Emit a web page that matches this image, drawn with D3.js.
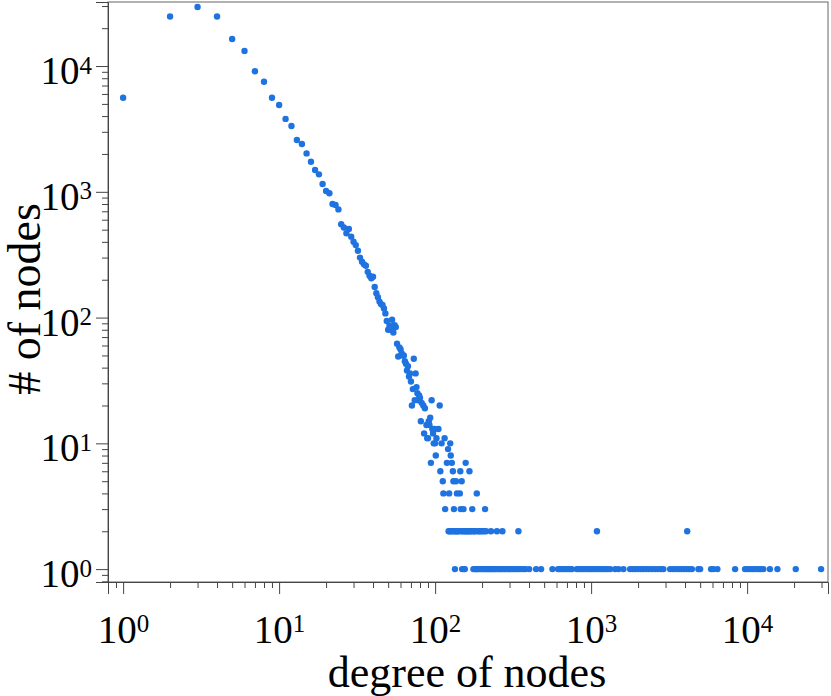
<!DOCTYPE html>
<html>
<head>
<meta charset="utf-8">
<script src="https://cdn.jsdelivr.net/npm/d3@7"></script>
<style>
  body { margin: 0; background: #fff; }
  svg { display: block; }
</style>
</head>
<body>
<svg id="chart"></svg>
<script>
// degree distribution, values
// head of the distribution: every degree 1..115 that shows up
var headDegree = [1,2,3,4,5,6,7,8,9,10,11,12,13,14,15,16,17,18,19,20,
  21,22,23,24,25,26,27,28,29,30,31,32,33,34,35,36,37,38,39,40,
  41,42,43,44,45,46,47,48,49,50,51,52,53,54,55,56,57,58,59,60,
  61,62,63,64,65,66,67,68,69,70,71,72,73,74,75,76,77,78,79,80,
  81,82,84,85,86,88,89,90,91,92,93,95,96,97,98,99,100,102,105,107,110,115];
var headCount = [5600,24800,29500,24800,16400,13200,9100,7500,5600,4900,3800,3340,2580,2400,2020,1734,1490,1377,1154,1014,
  973,800,785,725,553,521,468,506,440,401,377,340,300,278,265,258,231,215,205,211,
  175,156,145,134,128,126,118,108,94,80,86,80,96,76,87,84,62,49,58,56,
  52,50,50,45,43,38,41,34,36,31,20,27,47,22,36,28,25,22,24,23,
  15,21,20,12,19,14,11,11,15,14,16,22,13,12,10,13,10,11,13,20,10,11];

// mid range, small counts
var midDegree = [94,101,108,112,113,116,119,121,123,125,126,128,130,131,132,136,138,144,145,146,148,152,157,166,173,185,209];
var midCount  = [7,8,6,5,4,3,7,9,4,10,8,7,6,5,3,5,4,4,6,3,5,3,7,6,3,4,3];

// degrees with exactly two nodes
var twoDegree = [122,124,127,129,133,135,137,140,142,147,150,154,156,159,162,164,168,170,175,178,181,188,192,196,201,206,212,228,249,270,342,1090,4130];

// degrees with a single node
var oneDegree = [134,149,153,155,176,180,183,186,190,194,198,203,207,211,215,219,223,226,231,236,240,245,252,258,263,268,275,282,289,296,304,312,320,330,338,348,358,369,380,
  401,444,478,565,614,630,650,668,690,712,735,752,810,835,862,890,920,950,980,1010,1045,1080,1115,1150,1190,1230,1275,1324,1425,1497,1611,
  1778,1850,1920,2000,2080,2160,2250,2340,2450,2560,2680,2800,2906,3210,3350,3500,3650,3800,3950,4100,4250,4425,4870,5000,5875,6080,6450,8375,
  9700,10100,10500,10900,11300,11800,12200,12700,14000,15640,20500,29800];

var majorTicks = [1, 10, 100, 1000, 10000];
var tickExponents = ["0", "1", "2", "3", "4"];
var xTitle = "degree of nodes";
var yTitle = "# of nodes";

var points = [];
headDegree.forEach(function(d, i) { points.push({k: d, n: headCount[i]}); });
midDegree.forEach(function(d, i) { points.push({k: d, n: midCount[i]}); });
twoDegree.forEach(function(d) { points.push({k: d, n: 2}); });
oneDegree.forEach(function(d) { points.push({k: d, n: 1}); });

var W = 831, H = 696;
var margin = {top: 2, right: 3, bottom: 114, left: 108};
var width = W - margin.left - margin.right,
    height = H - margin.top - margin.bottom;

var svg = d3.select("#chart").attr("width", W).attr("height", H);
var plot = svg.append("g").attr("transform", "translate(" + margin.left + "," + margin.top + ")");

var x = d3.scaleLog().domain([0.8, 33000]).range([0, width]);
var y = d3.scaleLog().domain([0.79, 32300]).range([height, 0]);

// minor ticks 2..9 of each decade inside the domain
var minorTicks = function(scale) {
  var dom = scale.domain(), out = [];
  for (var e = -1; e <= 5; e++) {
    for (var m = 2; m <= 9; m++) {
      var v = m * Math.pow(10, e);
      if (v >= dom[0] && v <= dom[1]) out.push(v);
    }
  }
  return out;
};

var font = '"Liberation Serif", "DejaVu Serif", serif';
var axisColor = "#444";

// frame
plot.append("rect")
  .attr("width", width).attr("height", height)
  .attr("fill", "none").attr("stroke", "#666").attr("stroke-width", 1);

var labelTicks = function(g) {
  g.selectAll(".tick text").each(function(d) {
    var t = d3.select(this).text("");
    t.append("tspan").text("10");
    t.append("tspan").attr("dy", "-0.42em").style("font-size", "25px").text(tickExponents[majorTicks.indexOf(d)]);
  });
};

// x axis
plot.append("g")
  .attr("transform", "translate(0," + height + ")")
  .call(d3.axisBottom(x).tickValues(minorTicks(x)).tickSize(6).tickFormat(""))
  .call(function(g) { g.select(".domain").remove(); });

var xg = plot.append("g")
  .attr("transform", "translate(0," + height + ")")
  .call(d3.axisBottom(x).tickValues(majorTicks).tickSize(12).tickPadding(21).tickFormat(function(d) { return d; }));
xg.selectAll(".tick text").style("font-size", "39px").style("font-family", font).attr("fill", "#000");
labelTicks(xg);

// y axis
plot.append("g")
  .call(d3.axisLeft(y).tickValues(minorTicks(y)).tickSize(6).tickFormat(""))
  .call(function(g) { g.select(".domain").remove(); });

var yg = plot.append("g")
  .call(d3.axisLeft(y).tickValues(majorTicks).tickSize(12).tickPadding(4).tickFormat(function(d) { return d; }));
yg.selectAll(".tick text").style("font-size", "39px").style("font-family", font).attr("fill", "#000").attr("dy", "0.45em");
labelTicks(yg);

[xg, yg].forEach(function(g) {
  g.selectAll(".domain").attr("stroke", axisColor);
});
svg.selectAll(".tick line").attr("stroke", axisColor);

// titles
svg.append("text")
  .attr("x", 467)
  .attr("y", 687)
  .attr("text-anchor", "middle")
  .style("font-family", font).style("font-size", "44px")
  .text(xTitle);

svg.append("text")
  .attr("transform", "translate(40,299)rotate(-90)")
  .attr("text-anchor", "middle")
  .style("font-family", font).style("font-size", "46px")
  .text(yTitle);

// points
plot.append("g").selectAll("circle")
  .data(points)
  .enter().append("circle")
  .attr("cx", function(d) { return x(d.k); })
  .attr("cy", function(d) { return y(d.n); })
  .attr("r", 3.2)
  .attr("fill", "#1f73e0");
</script>
</body>
</html>
